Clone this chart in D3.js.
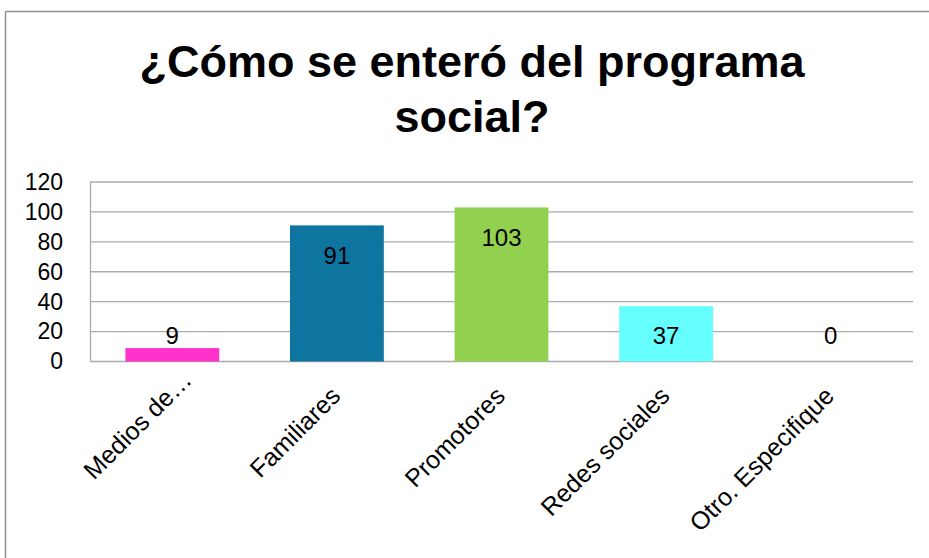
<!DOCTYPE html>
<html>
<head>
<meta charset="utf-8">
<script src="https://cdn.jsdelivr.net/npm/d3@7"></script>
<style>
  html, body { margin: 0; padding: 0; background: #fff; }
  svg { display: block; }
</style>
</head>
<body>
<div id="chart"></div>
<script>
const titleLines = ["¿Cómo se enteró del programa", "social?"];
const categories = ["Medios de…", "Familiares", "Promotores", "Redes sociales", "Otro. Especifique"];
const values = [9, 91, 103, 37, 0];
const barColors = ["#FF33CC", "#0E75A0", "#92D050", "#66FFFF", "#A5A5A5"];
const yTicks = [0, 20, 40, 60, 80, 100, 120];

const W = 929, H = 558;
const plot = { left: 90, right: 913, top: 182, bottom: 361.5 };
const font = "'Liberation Sans', Arial, sans-serif";

const svg = d3.select("#chart").append("svg")
  .attr("width", W).attr("height", H);

svg.append("rect").attr("x", 0).attr("y", 0).attr("width", W).attr("height", H).attr("fill", "#fff");

// outer chart border (top and left visible)
svg.append("line").attr("x1", 5.5).attr("x2", W).attr("y1", 11.5).attr("y2", 11.5)
  .attr("stroke", "#8f8f8f").attr("stroke-width", 1.5);
svg.append("line").attr("x1", 5.5).attr("x2", 5.5).attr("y1", 11.5).attr("y2", H)
  .attr("stroke", "#8f8f8f").attr("stroke-width", 1.5);

// title
svg.append("text")
  .attr("text-anchor", "middle")
  .attr("font-family", font).attr("font-weight", "bold").attr("font-size", 45)
  .attr("fill", "#000")
  .selectAll("tspan").data(titleLines).join("tspan")
  .attr("x", 472).attr("y", (d, i) => i === 0 ? 77 : 132)
  .text(d => d);

const x = d3.scaleBand().domain(categories).range([plot.left, plot.right])
  .paddingInner(0.43).paddingOuter(0.215);
const y = d3.scaleLinear().domain([0, 120]).range([plot.bottom, plot.top]);

// gridlines
svg.append("g").selectAll("line").data(yTicks).join("line")
  .attr("x1", plot.left).attr("x2", plot.right)
  .attr("y1", d => y(d)).attr("y2", d => y(d))
  .attr("stroke", "#ababab").attr("stroke-width", 1.3);

// y axis
const yAxis = svg.append("g").attr("transform", `translate(${plot.left},0)`)
  .call(d3.axisLeft(y).tickValues(yTicks).tickSize(0).tickPadding(27).tickFormat(d3.format("d")));
yAxis.select(".domain").attr("stroke", "#ababab").attr("stroke-width", 1.3);
yAxis.selectAll("text").attr("font-family", font).attr("font-size", 23).attr("fill", "#000");

// bars
svg.append("g").selectAll("rect").data(values).join("rect")
  .attr("x", (d, i) => x(categories[i]))
  .attr("width", x.bandwidth())
  .attr("y", d => y(d))
  .attr("height", d => y(0) - y(d))
  .attr("fill", (d, i) => barColors[i]);

// data labels
svg.append("g").selectAll("text").data(values).join("text")
  .attr("x", (d, i) => x(categories[i]) + x.bandwidth() / 2)
  .attr("y", d => Math.min(y(d) + 30, y(0) - 26))
  .attr("dy", "0.35em")
  .attr("text-anchor", "middle")
  .attr("font-family", font).attr("font-size", 24).attr("fill", "#000")
  .text(d => d);

// x axis labels (truncated labels sit higher, as in the original)
const xAxis = svg.append("g").attr("transform", `translate(0,${plot.bottom})`)
  .call(d3.axisBottom(x).tickSize(0).tickFormat(d => d));
xAxis.select(".domain").remove();
xAxis.selectAll("text")
  .attr("font-family", font).attr("font-size", 25).attr("fill", "#000")
  .attr("text-anchor", "end")
  .attr("y", 0).attr("dy", 0)
  .attr("transform", d => d.endsWith("…") ? "translate(21,20) rotate(-45)" : "translate(5,36) rotate(-45)");
</script>
</body>
</html>
